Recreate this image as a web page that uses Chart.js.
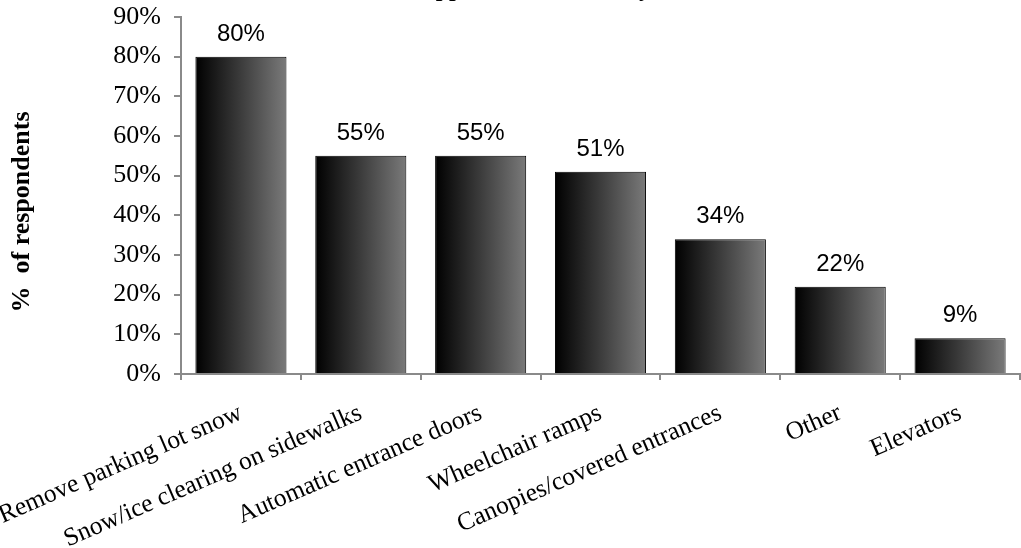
<!DOCTYPE html>
<html>
<head>
<meta charset="utf-8">
<script src="https://cdn.jsdelivr.net/npm/chart.js@4/dist/chart.umd.min.js"></script>
<style>
  html, body { margin: 0; padding: 0; background: #fff; }
  #wrap { width: 1021px; height: 548px; position: relative; }
</style>
</head>
<body>
<div id="wrap"><canvas id="chart"></canvas></div>
<script>
const categories = [
  'Remove parking lot snow',
  'Snow/ice clearing on sidewalks',
  'Automatic entrance doors',
  'Wheelchair ramps',
  'Canopies/covered entrances',
  'Other',
  'Elevators'
];
const percentRespondents = [80, 55, 55, 51, 34, 22, 9];
const yTicks = [0, 10, 20, 30, 40, 50, 60, 70, 80, 90];

const titleText = 'Supportive Community';
const yTitleText = '%  of respondents';
const axisGray = '#8a8a8a';
const barShare = 0.76;
const serif = '"Liberation Serif", "Times New Roman", serif';

// each bar gets its own dark-to-light horizontal gradient
function barGradient(ctx) {
  const chart = ctx.chart;
  const xs = chart.scales.x;
  if (ctx.type !== 'data' || !xs) return '#333';
  const cx = xs.getPixelForValue(ctx.dataIndex);
  const half = xs.width / categories.length * barShare / 2;
  if (!isFinite(cx) || !isFinite(half) || half <= 0) return '#333';
  const g = chart.ctx.createLinearGradient(cx - half, 0, cx + half, 0);
  g.addColorStop(0, '#000000');
  g.addColorStop(0.5, '#3c3c3c');
  g.addColorStop(1, '#7a7a7a');
  return g;
}

// value labels above the bars, the clipped heading and the y-axis title
const extras = {
  id: 'extras',
  afterDatasetsDraw(chart) {
    const c = chart.ctx;
    const meta = chart.getDatasetMeta(0);
    c.save();
    c.fillStyle = '#000';
    c.font = '24px "Liberation Sans", Arial, sans-serif';
    c.textAlign = 'center';
    c.textBaseline = 'alphabetic';
    meta.data.forEach((el, i) => {
      c.fillText(percentRespondents[i] + '%', el.x, el.y - 16);
    });

    c.font = 'bold 24px ' + serif;
    c.fillText(titleText, 530, -4);

    c.translate(22, 212);
    c.rotate(-Math.PI / 2);
    c.textBaseline = 'middle';
    c.font = 'bold 26px ' + serif;
    c.fillText(yTitleText, 0, 0);
    c.restore();
  }
};

new Chart(document.getElementById('chart'), {
  type: 'bar',
  data: {
    labels: categories,
    datasets: [{
      label: '% of respondents',
      data: percentRespondents,
      backgroundColor: barGradient,
      borderColor: '#000',
      borderWidth: 1,
      categoryPercentage: barShare,
      barPercentage: 1
    }]
  },
  options: {
    responsive: true,
    maintainAspectRatio: false,
    animation: false,
    layout: { padding: { top: 17, right: 1, left: 0, bottom: 0 } },
    plugins: {
      legend: { display: false },
      tooltip: { enabled: false }
    },
    scales: {
      x: {
        grid: {
          offset: true,
          drawOnChartArea: false,
          drawTicks: true,
          tickLength: 6,
          color: axisGray,
          lineWidth: 2
        },
        border: { color: axisGray, width: 2 },
        ticks: {
          autoSkip: false,
          minRotation: 23.5,
          maxRotation: 23.5,
          color: '#000',
          padding: 18,
          font: { family: serif, size: 25.5 }
        },
        afterFit(scale) {
          scale.height = 174;
          scale.paddingLeft = 0;
          scale.paddingRight = 0;
        }
      },
      y: {
        min: 0,
        max: 90,
        afterBuildTicks(scale) {
          scale.ticks = yTicks.map(v => ({ value: v }));
        },
        grid: {
          drawOnChartArea: false,
          drawTicks: true,
          tickLength: 7,
          color: axisGray,
          lineWidth: 2
        },
        border: { color: axisGray, width: 2 },
        ticks: {
          color: '#000',
          padding: 13,
          callback: v => v + '%',
          font: { family: serif, size: 26 }
        },
        afterFit(scale) {
          scale.width = 181;
          scale.paddingTop = 0;
          scale.paddingBottom = 0;
        }
      }
    }
  },
  plugins: [extras]
});
</script>
</body>
</html>
